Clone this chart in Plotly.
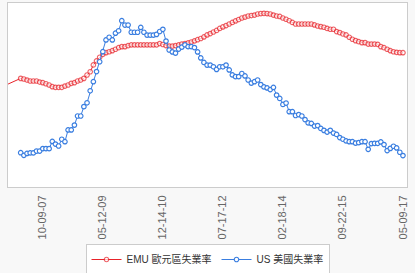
import pandas as pd
import plotly.graph_objects as go

# monthly categories (Oct 2006 .. May 2017)
months = list(pd.date_range("2006-10-01", periods=126, freq="MS").strftime("%Y-%m"))

tick_labels = ["10-09-07", "05-12-09", "12-14-10", "07-17-12", "02-18-14", "09-22-15", "05-09-17"]

emu_name = "EMU 歐元區失業率"
us_name = "US 美國失業率"

emu = [7.51, None, None, None,
       7.88, 7.84, 7.77, 7.71, 7.71, 7.71, 7.64, 7.60, 7.53, 7.45,
       7.34, 7.30, 7.30, 7.30, 7.38, 7.45, 7.56, 7.60, 7.71, 7.77,
       7.88, 8.10, 8.31, 8.75, 9.01, 9.25, 9.44, 9.55, 9.61, 9.68,
       9.77, 9.87, 9.94, 9.94, 10.00, 10.05, 10.05, 10.05, 10.05, 10.05,
       10.05, 10.05, 10.05, 10.05, 10.14, 10.08, 10.01, 9.98, 9.98, 10.01,
       10.05, 10.11, 10.14, 10.18, 10.24, 10.31, 10.39, 10.47, 10.57, 10.70,
       10.79, 10.89, 10.99, 11.12, 11.22, 11.31, 11.41, 11.51, 11.61, 11.70,
       11.80, 11.86, 11.93, 11.96, 11.99, 12.06, 12.09, 12.10, 12.09, 12.06,
       11.99, 11.93, 11.90, 11.80, 11.72, 11.62, 11.51, 11.41, 11.41, 11.41,
       11.41, 11.41, 11.41, 11.35, 11.28, 11.24, 11.20, 11.12, 11.07, 11.07,
       10.92, 10.85, 10.76, 10.70, 10.55, 10.42, 10.33, 10.26, 10.20, 10.20,
       10.11, 10.11, 10.11, 10.09, 9.94, 9.87, 9.77, 9.68, 9.61, 9.57, 9.55, 9.55]

us = [None, None, None, None,
      4.50, 4.39, 4.47, 4.49, 4.49, 4.57, 4.57, 4.67, 4.67, 4.67,
      4.97, 4.86, 4.78, 5.06, 4.96, 5.45, 5.45, 5.65, 6.03, 6.03,
      6.42, 6.58, 7.08, 7.46, 7.88, 8.29, 8.71, 9.20, 9.31, 9.20,
      9.48, 9.58, 10.00, 9.82, 9.82, 9.52, 9.52, 9.52, 9.72, 9.52,
      9.40, 9.40, 9.40, 9.43, 9.55, 9.64, 9.15, 8.78, 8.70, 8.65,
      8.82, 8.90, 8.99, 8.92, 8.92, 8.88, 8.70, 8.45, 8.26, 8.15,
      8.15, 8.08, 7.97, 8.08, 8.08, 8.15, 7.95, 7.74, 7.67, 7.67,
      7.80, 7.70, 7.53, 7.40, 7.46, 7.53, 7.34, 7.24, 7.20, 7.13,
      7.22, 6.90, 6.76, 6.51, 6.57, 6.21, 6.21, 6.05, 6.09, 6.03,
      5.88, 5.74, 5.72, 5.61, 5.63, 5.51, 5.43, 5.36, 5.43, 5.32,
      5.26, 5.13, 5.06, 4.99, 4.96, 4.96, 4.90, 4.92, 4.96, 4.96,
      4.64, 4.88, 4.89, 4.89, 4.95, 4.84, 4.59, 4.68, 4.77, 4.70, 4.52, 4.38]

RED = "#e8232a"
BLUE = "#3a7ee0"

tick_vals = [months[k] for k in range(11, len(months), 19)]

emu_sizes = [0] + [4.5] * (len(months) - 1)

fig = go.Figure()
fig.add_trace(go.Scatter(
    x=months, y=emu, name=emu_name, mode="lines+markers", connectgaps=True,
    line=dict(color=RED, width=1),
    marker=dict(symbol="circle", size=emu_sizes, color="white", line=dict(color=RED, width=1.2)),
    yaxis="y"))
fig.add_trace(go.Scatter(
    x=months, y=us, name=us_name, mode="lines+markers",
    line=dict(color=BLUE, width=1),
    marker=dict(symbol="circle", size=4.5, color="white", line=dict(color=BLUE, width=1.2)),
    yaxis="y2"))

fig.update_layout(
    width=415, height=273,
    margin=dict(l=8, r=8, t=3, b=86, autoexpand=False),
    paper_bgcolor="#f8f8f8",
    plot_bgcolor="white",
    showlegend=True,
    legend=dict(orientation="h", x=0.5, xanchor="center", xref="container",
                y=1 - 244 / 273, yanchor="top", yref="container",
                bgcolor="white", bordercolor="#cccccc", borderwidth=1,
                font=dict(family="Liberation Sans, Noto Sans CJK TC", size=10, color="#333333"),
                itemwidth=30, tracegroupgap=0),
    xaxis=dict(type="category", range=[-0.02, 126.28], automargin=False,
               tickmode="array", tickvals=tick_vals, ticktext=tick_labels,
               tickangle=-90, tickfont=dict(family="Liberation Sans", size=11, color="#666666"),
               ticklabelstandoff=3,
               showgrid=False, zeroline=False, ticks="",
               showline=True, linecolor="#cccccc", linewidth=1, mirror=True),
    yaxis=dict(range=[0.826, 12.774], showticklabels=False, showgrid=False, zeroline=False,
               automargin=False,
               ticks="", showline=True, linecolor="#cccccc", linewidth=1, mirror=True),
    yaxis2=dict(range=[3.071, 10.738], overlaying="y", side="right", showticklabels=False,
                automargin=False,
                showgrid=False, zeroline=False, ticks="", showline=False),
)

fig.write_html("out.html")
